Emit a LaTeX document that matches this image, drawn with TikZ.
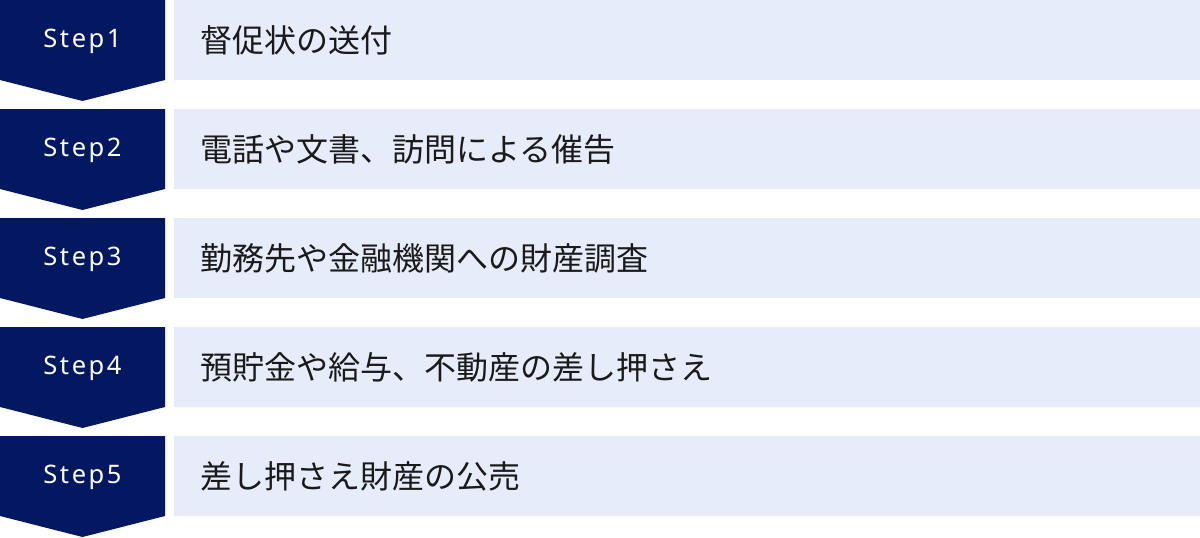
\documentclass[tikz,border=0pt]{standalone}
\usepackage{fontspec}
\setmainfont{Noto Sans CJK JP}
\newfontfamily\jpfont{Noto Sans CJK JP}
\newfontfamily\stepfont[LetterSpace=10]{Noto Sans}
\definecolor{navy}{HTML}{041862}
\definecolor{lightbg}{HTML}{E6ECF9}
\definecolor{txt}{HTML}{1A1A1A}
\tikzset{
  stepshape/.style={fill=navy, draw=none},
  itembox/.style={fill=lightbg, draw=none},
  steplabel/.style={text=white, font=\stepfont\fontsize{25.5}{25.5}\selectfont, inner sep=0pt, anchor=center},
  itemlabel/.style={text=txt, font=\jpfont\fontsize{32}{32}\selectfont, inner sep=0pt, anchor=west},
}
\begin{document}
\begin{tikzpicture}[x=1pt,y=-1pt]
\useasboundingbox (0,0) rectangle (1200,538);
\foreach \i/\t in {1/督促状の送付,2/電話や文書、訪問による催告,3/勤務先や金融機関への財産調査,4/預貯金や給与、不動産の差し押さえ,5/差し押さえ財産の公売}{
  \pgfmathsetmacro{\top}{(\i-1)*109}
  \fill[stepshape] (0,\top) -- (165,\top) -- (165,\top+80) -- (82.5,\top+101) -- (0,\top+80) -- cycle;
  \fill[itembox] (174,\top) rectangle (1200,\top+80);
  \node[steplabel] (s\i) at (82.5,\top+41) {Step\i};
  \node[itemlabel] (t\i) at (200,\top+40) {\t};
}
\end{tikzpicture}
\end{document}
